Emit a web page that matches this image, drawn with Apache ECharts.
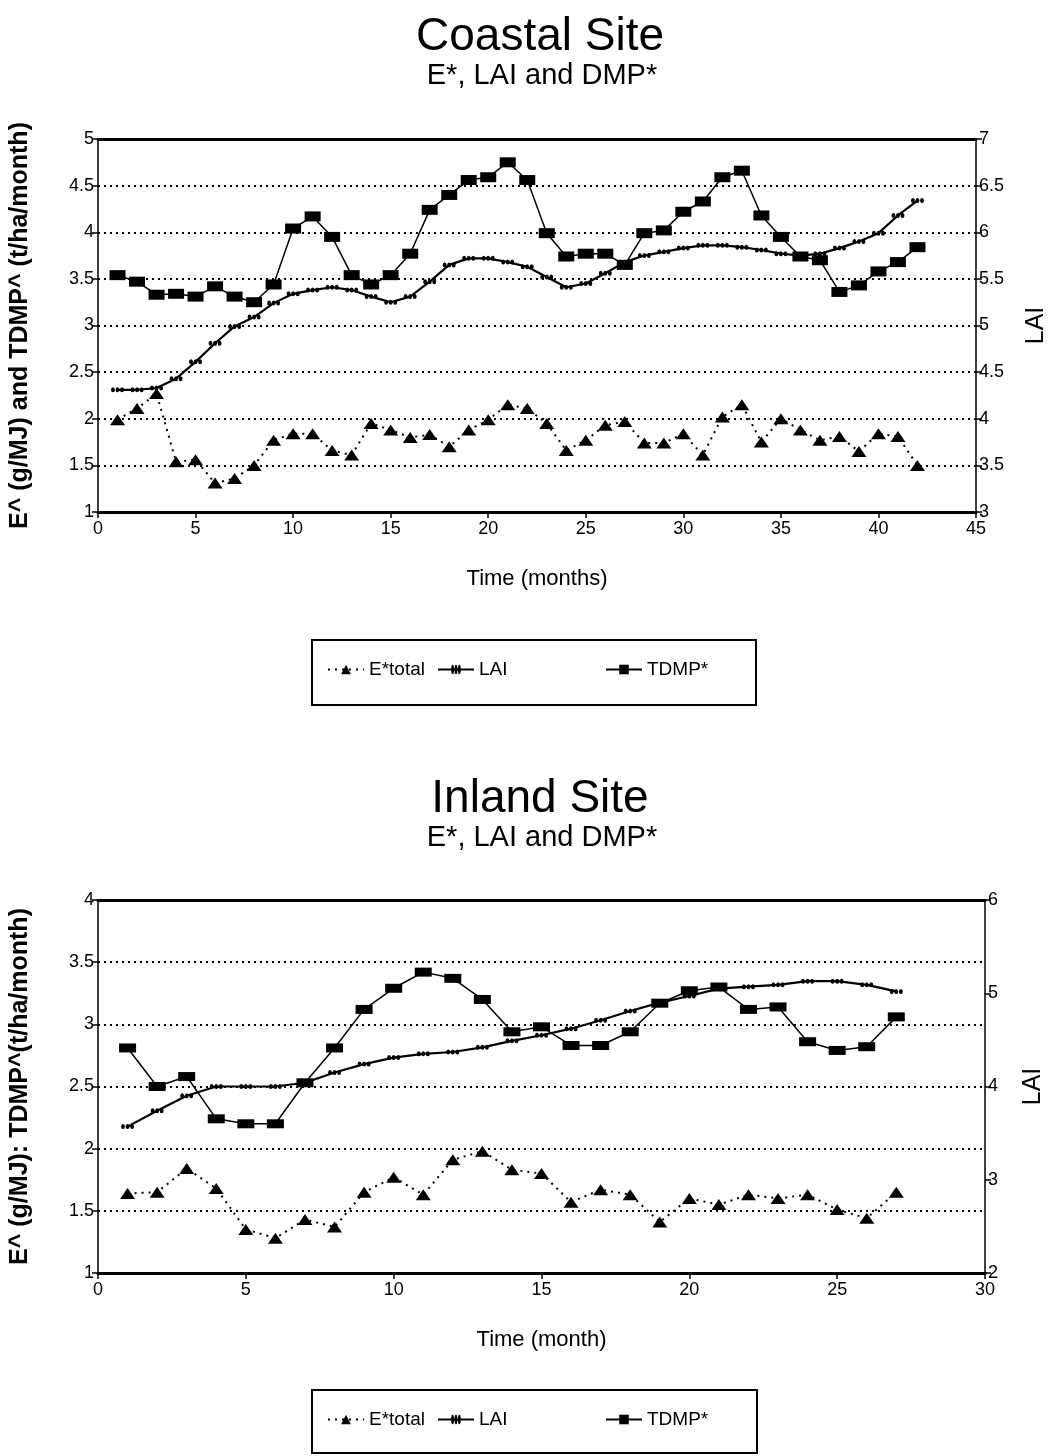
<!DOCTYPE html>
<html>
<head>
<meta charset="utf-8">
<script src="https://cdn.jsdelivr.net/npm/echarts@6/dist/echarts.min.js"></script>
<style>
html,body{margin:0;padding:0;background:#fff;}
#chart{width:1052px;height:1456px;}
</style>
</head>
<body>
<div id="chart"></div>
<script>
// ---------- Coastal Site (months 1..42) ----------
const coastMonths = [1,2,3,4,5,6,7,8,9,10,11,12,13,14,15,16,17,18,19,20,21,22,23,24,25,26,27,28,29,30,31,32,33,34,35,36,37,38,39,40,41,42];
const coastE = [1.99,2.11,2.27,1.54,1.56,1.31,1.36,1.50,1.77,1.84,
                1.84,1.66,1.61,1.95,1.88,1.80,1.83,1.70,1.88,1.99,
                2.15,2.11,1.95,1.66,1.77,1.93,1.97,1.74,1.74,1.84,
                1.61,2.02,2.15,1.75,2.00,1.88,1.77,1.81,1.65,1.84,
                1.81,1.50];
const coastLAI = [4.31,4.31,4.33,4.43,4.61,4.81,4.99,5.09,5.24,5.34,
                  5.38,5.41,5.38,5.31,5.25,5.31,5.47,5.65,5.72,5.72,
                  5.68,5.63,5.52,5.41,5.45,5.56,5.68,5.75,5.79,5.83,
                  5.86,5.86,5.84,5.81,5.77,5.75,5.77,5.83,5.90,5.99,
                  6.18,6.34];
const coastTDMP = [3.54,3.47,3.33,3.34,3.31,3.42,3.31,3.25,3.44,4.04,
                   4.17,3.95,3.54,3.44,3.54,3.77,4.24,4.40,4.56,4.59,
                   4.75,4.56,3.99,3.74,3.77,3.77,3.65,3.99,4.02,4.22,
                   4.33,4.59,4.66,4.18,3.95,3.74,3.70,3.36,3.43,3.58,
                   3.68,3.84];

// ---------- Inland Site (months 1..27) ----------
const inlandMonths = [1,2,3,4,5,6,7,8,9,10,11,12,13,14,15,16,17,18,19,20,21,22,23,24,25,26,27];
const inlandE = [1.64,1.65,1.84,1.68,1.35,1.28,1.43,1.37,1.65,1.77,
                 1.63,1.91,1.98,1.83,1.80,1.57,1.67,1.63,1.41,1.60,
                 1.55,1.63,1.60,1.63,1.51,1.44,1.65];
const inlandLAI = [3.57,3.74,3.90,4.00,4.00,4.00,4.04,4.15,4.24,4.31,
                   4.35,4.37,4.42,4.49,4.55,4.62,4.71,4.81,4.90,4.97,
                   5.05,5.07,5.09,5.13,5.13,5.09,5.02];
const inlandTDMP = [2.81,2.50,2.58,2.24,2.20,2.20,2.53,2.81,3.12,3.29,
                    3.42,3.37,3.20,2.94,2.98,2.83,2.83,2.94,3.17,3.27,
                    3.30,3.12,3.14,2.86,2.79,2.82,3.06];

// ---------- Texts ----------
const titles = ['Coastal Site', 'Inland Site'];
const subtitle = 'E*, LAI and DMP*';
const xNames = ['Time (months)', 'Time (month)'];
const yNames = ['E^ (g/MJ) and TDMP^ (t/ha/month)', 'E^ (g/MJ): TDMP^(t/ha/month)'];
const seriesNames = ['E*total', 'LAI', 'TDMP*'];

const FONT = '"Liberation Sans", Arial, sans-serif';
const pairs = (xs, ys) => xs.map((x, i) => [x, ys[i]]);
const dotsPath = 'path://M0,3a3,3 0 1,0 6,0a3,3 0 1,0 -6,0M7,3a3,3 0 1,0 6,0a3,3 0 1,0 -6,0M14,3a3,3 0 1,0 6,0a3,3 0 1,0 -6,0';

function xAxes(grid, max, name) {
  return [
    { gridIndex: grid, type: 'value', min: 0, max: max, interval: 5, position: 'bottom',
      axisLine: { onZero: false, lineStyle: { color: '#000', width: 3 } },
      axisTick: { length: 6, lineStyle: { color: '#000', width: 1.5 } },
      axisLabel: { color: '#000', fontSize: 18, fontFamily: FONT, margin: 8 },
      splitLine: { show: false },
      name: name, nameLocation: 'middle', nameGap: 56,
      nameTextStyle: { color: '#000', fontSize: 22, fontFamily: FONT } },
    { gridIndex: grid, type: 'value', min: 0, max: max, position: 'top',
      axisLine: { onZero: false, lineStyle: { color: '#000', width: 3 } },
      axisTick: { show: false }, axisLabel: { show: false }, splitLine: { show: false } }
  ];
}
function yAxes(grid, min, max, interval, rmin, rmax, rinterval, name, rgap) {
  return [
    { gridIndex: grid, type: 'value', min: min, max: max, interval: interval, position: 'left',
      axisLine: { show: true, onZero: false, lineStyle: { color: '#000', width: 1.5 } },
      axisTick: { show: true, length: 6, lineStyle: { color: '#000', width: 1.5 } },
      axisLabel: { color: '#000', fontSize: 18, fontFamily: FONT, margin: 4 },
      splitLine: { show: true, lineStyle: { color: '#000', type: [2, 4], width: 2 } },
      name: name, nameLocation: 'middle', nameGap: 65, nameRotate: 90,
      nameTextStyle: { color: '#000', fontSize: 25, fontFamily: FONT, fontWeight: 'bold' } },
    { gridIndex: grid, type: 'value', min: rmin, max: rmax, interval: rinterval, position: 'right',
      axisLine: { show: true, onZero: false, lineStyle: { color: '#000', width: 1.5 } },
      axisTick: { show: true, length: 6, lineStyle: { color: '#000', width: 1.5 } },
      axisLabel: { color: '#000', fontSize: 18, fontFamily: FONT, margin: 3 },
      splitLine: { show: false },
      name: 'LAI', nameLocation: 'middle', nameGap: rgap, nameRotate: 90,
      nameTextStyle: { color: '#000', fontSize: 25, fontFamily: FONT } }
  ];
}
function seriesFor(xi, yl, yr, months, e, lai, tdmp, sq) {
  return [
    { name: seriesNames[0], type: 'line', xAxisIndex: xi, yAxisIndex: yl, data: pairs(months, e),
      symbol: 'triangle', symbolSize: [15, 11], itemStyle: { color: '#000' },
      lineStyle: { color: '#000', width: 2, type: [2, 5] }, z: 3 },
    { name: seriesNames[1], type: 'line', xAxisIndex: xi, yAxisIndex: yr, data: pairs(months, lai),
      symbol: dotsPath, symbolSize: [13, 5], itemStyle: { color: '#000' },
      lineStyle: { color: '#000', width: 2.2 }, z: 4 },
    { name: seriesNames[2], type: 'line', xAxisIndex: xi, yAxisIndex: yl, data: pairs(months, tdmp),
      symbol: 'rect', symbolSize: sq, itemStyle: { color: '#000' },
      lineStyle: { color: '#000', width: 1.5 }, z: 5 }
  ];
}
function legends(top) {
  const common = { orient: 'horizontal', itemHeight: 12,
    textStyle: { color: '#000', fontSize: 19, fontFamily: FONT }, selectedMode: false };
  return [
    Object.assign({}, common, { data: [seriesNames[0], seriesNames[1]], left: 322, top: top, itemWidth: 36, itemGap: 12 }),
    Object.assign({}, common, { data: [seriesNames[2]], left: 600, top: top, itemWidth: 36 })
  ];
}

const chart = echarts.init(document.getElementById('chart'), null, { renderer: 'canvas' });
chart.setOption({
  backgroundColor: '#fff',
  animation: false,
  title: [
    { text: titles[0], left: 535, top: 9, textAlign: 'center', textStyle: { fontSize: 46, fontWeight: 'normal', color: '#000', fontFamily: FONT } },
    { text: subtitle, left: 537, top: 56, textAlign: 'center', textStyle: { fontSize: 29, fontWeight: 'normal', color: '#000', fontFamily: FONT } },
    { text: titles[1], left: 535, top: 771, textAlign: 'center', textStyle: { fontSize: 46, fontWeight: 'normal', color: '#000', fontFamily: FONT } },
    { text: subtitle, left: 537, top: 818, textAlign: 'center', textStyle: { fontSize: 29, fontWeight: 'normal', color: '#000', fontFamily: FONT } }
  ],
  grid: [
    { left: 98, top: 139, width: 878, height: 373, show: false, outerBoundsMode: 'none', containLabel: false },
    { left: 98, top: 900, width: 887, height: 373, show: false, outerBoundsMode: 'none', containLabel: false }
  ],
  xAxis: [].concat(xAxes(0, 45, xNames[0]), xAxes(1, 30, xNames[1])),
  yAxis: [].concat(yAxes(0, 1, 5, 0.5, 3, 7, 0.5, yNames[0], 48), yAxes(1, 1, 4, 0.5, 2, 6, 1, yNames[1], 36)),
  legend: [].concat(legends(655), legends(1405)),
  graphic: [
    { type: 'rect', shape: { x: 312, y: 640, width: 444, height: 65 }, style: { fill: 'none', stroke: '#000', lineWidth: 2 } },
    { type: 'rect', shape: { x: 312, y: 1390, width: 445, height: 63 }, style: { fill: 'none', stroke: '#000', lineWidth: 2 } }
  ],
  series: [].concat(
    seriesFor(0, 0, 1, coastMonths, coastE, coastLAI, coastTDMP, [16, 10]),
    seriesFor(2, 2, 3, inlandMonths, inlandE, inlandLAI, inlandTDMP, [17, 9])
  )
});
</script>
</body>
</html>
